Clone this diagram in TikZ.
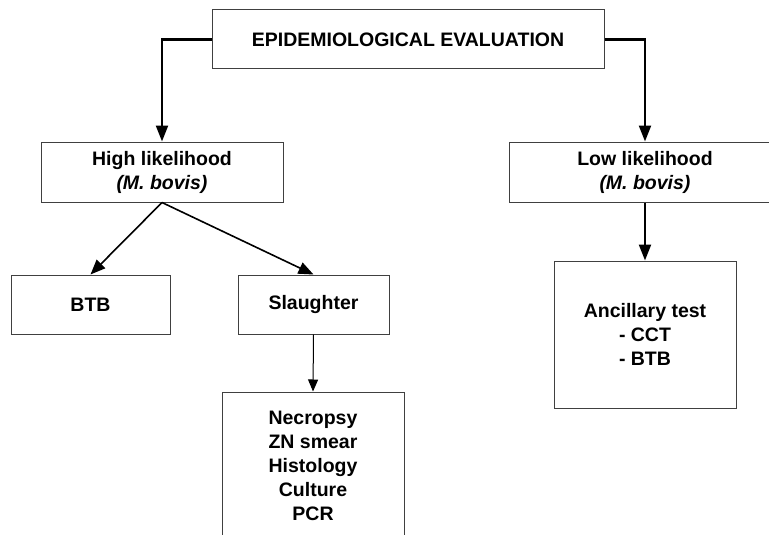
\documentclass[tikz,border=0pt]{standalone}
\usepackage{fontspec}
\setmainfont{Liberation Sans}
\usetikzlibrary{arrows.meta}
\begin{document}
\begin{tikzpicture}[x=1pt,y=-1pt]
    \tikzstyle{box} = [draw=black!75, line width=1pt, align=center, inner sep=0pt,
      font=\fontsize{19.5}{24}\selectfont\bfseries]
    \tikzstyle{link} = [line width=2.2pt, -{Triangle[length=16pt,width=12pt]}]
    \tikzstyle{branch} = [line width=1.6pt, -{Triangle[length=15pt,width=12pt]}]
    \tikzstyle{thinlink} = [line width=1pt, -{Triangle[length=12pt,width=10pt]}]
    \clip (0,0) rectangle (769,535);
    \node[box, minimum width=392pt, minimum height=59pt] (epi) at (408,39.5)
      {EPIDEMIOLOGICAL EVALUATION};
    \node[box, minimum width=242pt, minimum height=60pt] (high) at (162,172)
      {High likelihood\\\textit{(M. bovis)}};
    \node[box, minimum width=272pt, minimum height=60pt] (low) at (645,172)
      {Low likelihood\\\textit{(M. bovis)}};
    \node[box, minimum width=159pt, minimum height=59pt] (btb) at (90.5,304.5) {BTB};
    \node[box, minimum width=151pt, minimum height=59pt] (slaughter) at (313.5,304.5) {Slaughter};
    \node[box, minimum width=182pt, minimum height=148pt] (labtests) at (313,466)
      {Necropsy\\ZN smear\\Histology\\Culture\\PCR};
    \node[box, minimum width=182pt, minimum height=147pt] (ancillary) at (645,334.5)
      {Ancillary test\\- CCT\\- BTB};
    \draw[link] (epi.west) -| (high.north);
    \draw[link] (epi.east) -| (low.north);
    \draw[branch] (high.south) -- (btb.north);
    \draw[branch] (high.south) -- (slaughter.north);
    \draw[thinlink] (slaughter.south) -- (labtests.north);
    \draw[link] (low.south) -- (ancillary.north);
\end{tikzpicture}
\end{document}
